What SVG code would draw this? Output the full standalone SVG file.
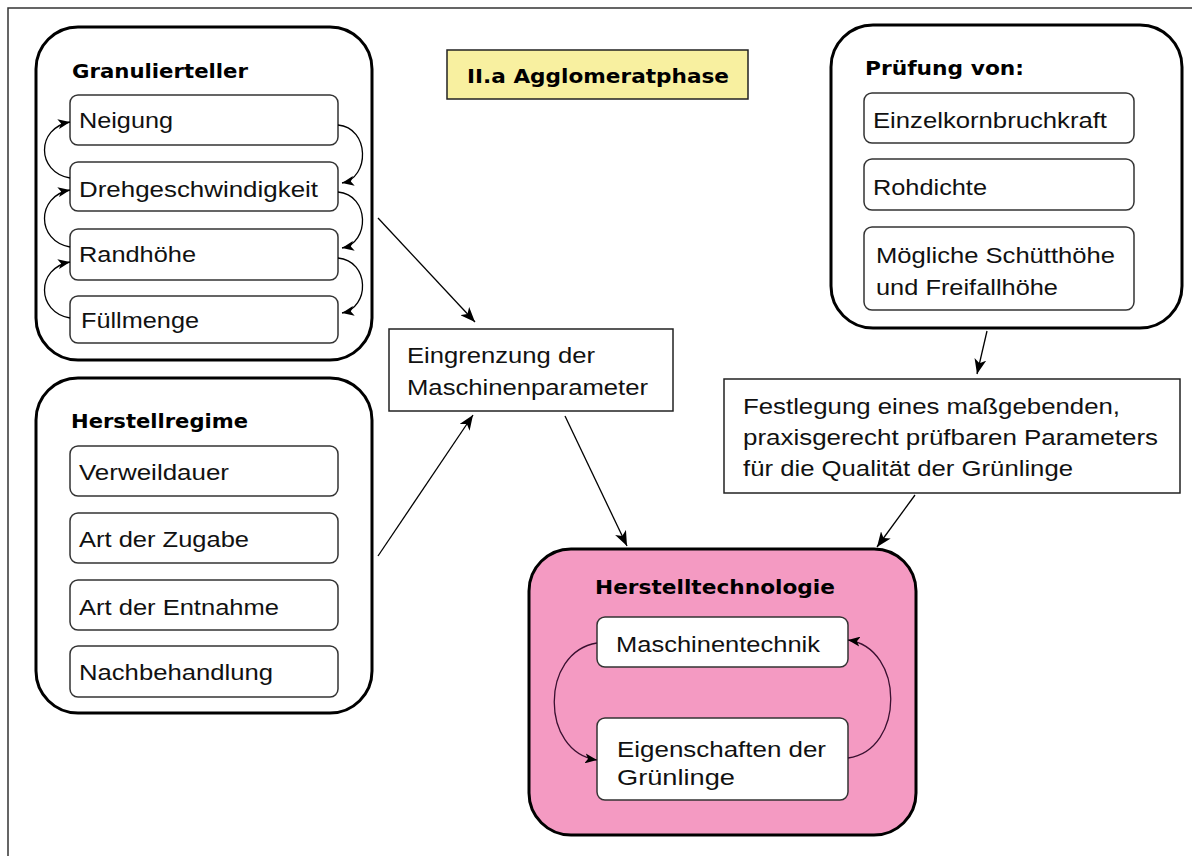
<svg xmlns="http://www.w3.org/2000/svg" width="1192" height="856" viewBox="0 0 1192 856">
<defs>
<style>
.big{fill:#fff;stroke:#000;stroke-width:3}
.pink{fill:#f49ac2;stroke:#000;stroke-width:3}
.item{fill:#fff;stroke:#333;stroke-width:1.5}
.rect{fill:#fff;stroke:#222;stroke-width:1.5}
.t{font-family:"Liberation Sans",Arial,sans-serif;font-size:22px;fill:#111}
.h{font-family:"DejaVu Sans",Verdana,sans-serif;font-size:19px;font-weight:bold;fill:#000}
.c{fill:none;stroke:#000;stroke-width:1.3}
.cp{fill:none;stroke:#3a1030;stroke-width:1.3}
</style>
<marker id="ah" markerUnits="userSpaceOnUse" markerWidth="16" markerHeight="12" refX="15" refY="6" orient="auto">
<path d="M0,0 L15,6 L0,12 L4,6 z" fill="#000"/>
</marker>
<marker id="as" markerUnits="userSpaceOnUse" markerWidth="13" markerHeight="10" refX="12" refY="5" orient="auto">
<path d="M0,0 L12,5 L0,10 L3,5 z" fill="#000"/>
</marker>
</defs>
<rect width="1192" height="856" fill="#fff"/>
<path d="M8,856 L8,8 L1192,8" fill="none" stroke="#333" stroke-width="1.5"/>

<g id="title">
<rect x="447" y="50" width="301" height="49" fill="#f8f0a0" stroke="#222" stroke-width="1.5"/>
<text x="467" y="83" class="h" textLength="262" lengthAdjust="spacingAndGlyphs">II.a Agglomeratphase</text>
</g>

<g id="granulierteller">
<rect x="36" y="27" width="336" height="333" rx="42" class="big"/>
<text x="72" y="78" class="h" textLength="176" lengthAdjust="spacingAndGlyphs">Granulierteller</text>
<rect x="70" y="95" width="268" height="50" rx="8" class="item"/>
<text x="79" y="128" class="t" textLength="94" lengthAdjust="spacingAndGlyphs">Neigung</text>
<rect x="70" y="162" width="268" height="49" rx="8" class="item"/>
<text x="79" y="197" class="t" textLength="239" lengthAdjust="spacingAndGlyphs">Drehgeschwindigkeit</text>
<rect x="70" y="229" width="268" height="51" rx="8" class="item"/>
<text x="79" y="262" class="t" textLength="117" lengthAdjust="spacingAndGlyphs">Randhöhe</text>
<rect x="70" y="296" width="268" height="47" rx="8" class="item"/>
<text x="81" y="328" class="t" textLength="118" lengthAdjust="spacingAndGlyphs">Füllmenge</text>
</g>

<g id="herstellregime">
<rect x="36" y="378" width="336" height="335" rx="42" class="big"/>
<text x="71" y="428" class="h" textLength="177" lengthAdjust="spacingAndGlyphs">Herstellregime</text>
<rect x="70" y="446" width="268" height="50" rx="8" class="item"/>
<text x="79" y="480" class="t" textLength="150" lengthAdjust="spacingAndGlyphs">Verweildauer</text>
<rect x="70" y="513" width="268" height="50" rx="8" class="item"/>
<text x="79" y="547" class="t" textLength="170" lengthAdjust="spacingAndGlyphs">Art der Zugabe</text>
<rect x="70" y="580" width="268" height="50" rx="8" class="item"/>
<text x="79" y="615" class="t" textLength="200" lengthAdjust="spacingAndGlyphs">Art der Entnahme</text>
<rect x="70" y="646" width="268" height="51" rx="8" class="item"/>
<text x="79" y="680" class="t" textLength="194" lengthAdjust="spacingAndGlyphs">Nachbehandlung</text>
</g>

<g id="eingrenzung">
<rect x="389" y="329" width="284" height="82" class="rect"/>
<text x="407" y="363" class="t" textLength="188" lengthAdjust="spacingAndGlyphs">Eingrenzung der</text>
<text x="407" y="395" class="t" textLength="241" lengthAdjust="spacingAndGlyphs">Maschinenparameter</text>
</g>

<g id="pruefung">
<rect x="831" y="25" width="351" height="303" rx="42" class="big"/>
<text x="865" y="75" class="h" textLength="159" lengthAdjust="spacingAndGlyphs">Prüfung von:</text>
<rect x="864" y="93" width="270" height="50" rx="8" class="item"/>
<text x="873" y="128" class="t" textLength="234" lengthAdjust="spacingAndGlyphs">Einzelkornbruchkraft</text>
<rect x="864" y="159" width="270" height="51" rx="8" class="item"/>
<text x="873" y="195" class="t" textLength="114" lengthAdjust="spacingAndGlyphs">Rohdichte</text>
<rect x="864" y="227" width="270" height="83" rx="8" class="item"/>
<text x="876" y="263" class="t" textLength="239" lengthAdjust="spacingAndGlyphs">Mögliche Schütthöhe</text>
<text x="876" y="295" class="t" textLength="182" lengthAdjust="spacingAndGlyphs">und Freifallhöhe</text>
</g>

<g id="festlegung">
<rect x="724" y="379" width="456" height="114" class="rect"/>
<text x="743" y="414" class="t" textLength="377" lengthAdjust="spacingAndGlyphs">Festlegung eines maßgebenden,</text>
<text x="743" y="445" class="t" textLength="415" lengthAdjust="spacingAndGlyphs">praxisgerecht prüfbaren Parameters</text>
<text x="743" y="476" class="t" textLength="330" lengthAdjust="spacingAndGlyphs">für die Qualität der Grünlinge</text>
</g>

<g id="herstelltechnologie">
<rect x="529" y="549" width="387" height="286" rx="42" class="pink"/>
<text x="595" y="594" class="h" textLength="240" lengthAdjust="spacingAndGlyphs">Herstelltechnologie</text>
<rect x="597" y="617" width="251" height="50" rx="8" class="item"/>
<text x="616" y="652" class="t" textLength="204" lengthAdjust="spacingAndGlyphs">Maschinentechnik</text>
<rect x="597" y="718" width="251" height="82" rx="8" class="item"/>
<text x="617" y="757" class="t" textLength="209" lengthAdjust="spacingAndGlyphs">Eigenschaften der</text>
<text x="617" y="785" class="t" textLength="118" lengthAdjust="spacingAndGlyphs">Grünlinge</text>
</g>

<g id="connectors">
<path class="c" d="M70,178 C36,172 36,128 70,122" marker-end="url(#as)"/>
<path class="c" d="M70,247 C36,241 36,196 70,190" marker-end="url(#as)"/>
<path class="c" d="M70,318 C36,312 36,268 70,262" marker-end="url(#as)"/>
<path class="c" d="M338,125 C370,128 370,178 342,183" marker-end="url(#as)"/>
<path class="c" d="M338,192 C370,195 370,243 342,248" marker-end="url(#as)"/>
<path class="c" d="M338,258 C370,261 370,308 342,313" marker-end="url(#as)"/>
<path class="cp" d="M597,643 C540,652 540,752 597,760" marker-end="url(#as)"/>
<path class="cp" d="M848,758 C905,750 905,648 848,640" marker-end="url(#as)"/>
<path class="c" d="M378,218 L475,322" marker-end="url(#ah)"/>
<path class="c" d="M378,556 L473,415" marker-end="url(#ah)"/>
<path class="c" d="M565,416 L627,546" marker-end="url(#ah)"/>
<path class="c" d="M987,331 L977,374" marker-end="url(#ah)"/>
<path class="c" d="M915,495 L877,547" marker-end="url(#ah)"/>
</g>
</svg>
